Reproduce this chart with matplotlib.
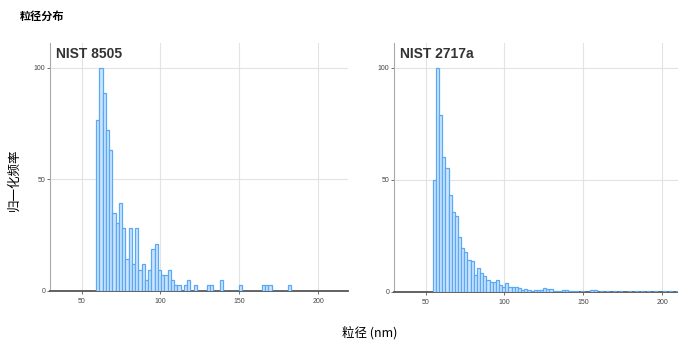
import numpy as np
import matplotlib
matplotlib.use("Agg")
import matplotlib.pyplot as plt

plt.rcParams['font.family'] = ['Liberation Sans', 'Noto Sans CJK SC', 'DejaVu Sans']

# normalized frequency per bin
nist8505_start = 59.3
nist8505_binw = 2.06
nist8505_counts = [76.7, 100, 88.4, 72, 63, 35, 30.4, 39.4, 28, 14,
                   28, 12, 28, 9.5, 12, 4.8, 9.5, 18.5, 21, 9.5,
                   7, 7, 9.5, 4.8, 2.4, 2.4, 0, 2.4, 4.8, 0,
                   2.4, 0, 0, 0, 2.4, 2.4, 0, 0, 4.8, 0,
                   0, 0, 0, 0, 2.4, 0, 0, 0, 0, 0,
                   0, 2.4, 2.4, 2.4, 0, 0, 0, 0, 0, 2.4]

nist2717a_start = 54.6
nist2717a_binw = 2.0
nist2717a_counts = [50, 100, 78.7, 60.1, 55.2, 43.1, 35.5, 33.6, 24.6, 19.4,
                    17.5, 14.2, 13.7, 7.5, 10.4, 8.2, 7, 5.2, 4.2, 4.2,
                    5.2, 3, 1.9, 3.7, 2.2, 2.2, 1.9, 1.5, 0.7, 1.2,
                    0.7, 0.4, 0.7, 0.7, 0.7, 1.5, 1.2, 1.2, 0.5, 0.4,
                    0.3, 0.9, 0.9, 0.3, 0.3, 0.3, 0, 0.3, 0, 0,
                    0.6, 0.6, 0, 0.3, 0, 0.3, 0, 0.3, 0, 0.3,
                    0, 0, 0.3, 0, 0.3, 0, 0.3, 0, 0.3, 0,
                    0.3, 0, 0, 0.3, 0, 0.3, 0, 0.3]

panels = [("NIST 8505", nist8505_start, nist8505_binw, nist8505_counts),
          ("NIST 2717a", nist2717a_start, nist2717a_binw, nist2717a_counts)]

W, H = 678, 341
fig = plt.figure(figsize=(W / 100, H / 100), dpi=100)

# axes boxes in pixels: left, top, right, bottom
boxes = [(50, 43, 348, 290.7), (394, 43, 692, 291.7)]

for (name, start, binw, counts), (l, t, r, b) in zip(panels, boxes):
    ax = fig.add_axes([l / W, (H - b) / H, (r - l) / W, (b - t) / H])
    counts = np.array(counts)
    lefts = start + binw * np.arange(len(counts))
    ax.bar(lefts, counts, width=binw, align='edge',
           color='#cde4fd', edgecolor='#5aa9f7', linewidth=0.9, zorder=4)
    ax.set_xlim(30, 219)
    ax.set_ylim(0, 111)
    ax.set_xticks([50, 100, 150, 200])
    ax.set_yticks([0, 50, 100])
    ax.grid(True, color='#e3e3e3', linewidth=0.8, zorder=0)
    ax.set_axisbelow(True)
    for s in ['top', 'right']:
        ax.spines[s].set_visible(False)
    ax.spines['left'].set_color('#aaaaaa')
    ax.spines['left'].set_linewidth(0.8)
    ax.spines['bottom'].set_color('#555555')
    ax.spines['bottom'].set_linewidth(1.3)
    ax.spines['bottom'].set_zorder(3)
    ax.tick_params(axis='both', labelsize=5, colors='#555555', length=2,
                   width=0.6, pad=1.5)
    ax.tick_params(axis='both', labelcolor='#444444')
    ax.tick_params(axis='x', pad=3)
    ax.text(0.02, 0.955, name, transform=ax.transAxes, fontsize=10,
            fontweight='bold', color='#333333', va='center', ha='left')

fig.text(20 / W, 1 - 16.5 / H, "粒径分布", fontsize=8, fontweight='bold',
         va='center', ha='left', family=['Noto Sans CJK SC', 'DejaVu Sans'])
fig.text(14 / W, 1 - 180 / H, "归一化频率", fontsize=9, rotation=90,
         va='center', ha='center', family=['Noto Sans CJK SC', 'DejaVu Sans'])
fig.text(370 / W, 1 - 333 / H, "粒径 (nm)", fontsize=9,
         va='center', ha='center', family=['Noto Sans CJK SC', 'DejaVu Sans'])

fig.savefig("out.png", dpi=100)
